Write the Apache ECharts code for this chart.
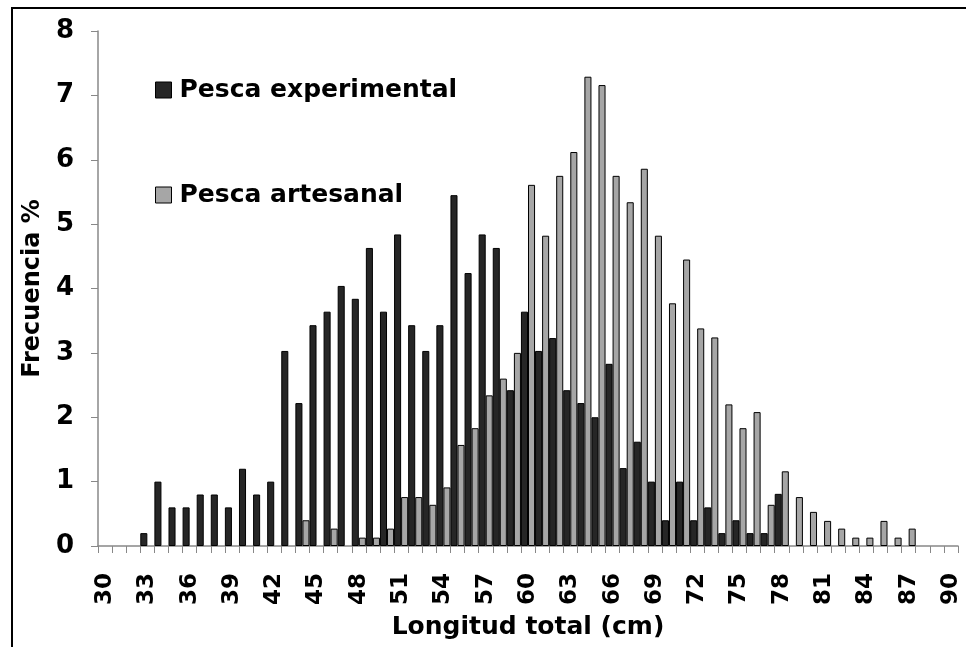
<!DOCTYPE html>
<html>
<head>
<meta charset="utf-8">
<script src="https://cdn.jsdelivr.net/npm/echarts@6/dist/echarts.min.js"></script>
<style>
  html, body { margin: 0; padding: 0; background: #fff; }
  #chart { width: 966px; height: 647px; }
</style>
</head>
<body>
<div id="chart"></div>
<script>
// Length classes (cm), one per centimetre
const lengths = [];
for (let cm = 30; cm <= 90; cm++) lengths.push(String(cm));

// Frequency (%) per length class, experimental fishing
const experimental = [
  0, 0, 0, 0.2, 1.0, 0.6, 0.6, 0.8, 0.8, 0.6,
  1.2, 0.8, 1.0, 3.03, 2.22, 3.43, 3.64, 4.04, 3.84, 4.63,
  3.64, 4.84, 3.43, 3.03, 3.43, 5.45, 4.24, 4.84, 4.63, 2.42,
  3.64, 3.03, 3.23, 2.42, 2.22, 2.0, 2.83, 1.21, 1.62, 1.0,
  0.4, 1.0, 0.4, 0.6, 0.2, 0.4, 0.2, 0.2, 0.81, 0,
  0, 0, 0, 0, 0, 0, 0, 0, 0, 0,
  0
];

// Frequency (%) per length class, artisanal fishing
const artesanal = [
  0, 0, 0, 0, 0, 0, 0, 0, 0, 0,
  0, 0, 0, 0, 0.4, 0, 0.27, 0, 0.13, 0.13,
  0.27, 0.76, 0.76, 0.64, 0.91, 1.57, 1.83, 2.34, 2.6, 3.0,
  5.61, 4.82, 5.75, 6.12, 7.29, 7.16, 5.75, 5.34, 5.86, 4.82,
  3.77, 4.45, 3.38, 3.24, 2.2, 1.83, 2.08, 0.64, 1.16, 0.76,
  0.53, 0.39, 0.27, 0.13, 0.13, 0.39, 0.13, 0.27, 0, 0,
  0
];

const seriesNames = ['Pesca experimental', 'Pesca artesanal'];
const yTicks = [0, 1, 2, 3, 4, 5, 6, 7, 8];

// empty classes are left blank rather than drawn as flat bars
const blankZeros = arr => arr.map(v => (v === 0 ? '-' : v));

const FONT = '"DejaVu Sans", Verdana, sans-serif';
const AXIS_GREY = '#888888';

const chart = echarts.init(document.getElementById('chart'), null, { renderer: 'canvas' });

chart.setOption({
  animation: false,
  backgroundColor: '#ffffff',
  grid: { left: 98, right: 8, top: 31, bottom: 101, containLabel: false },
  legend: {
    orient: 'vertical',
    left: 150,
    top: 70,
    itemGap: 75,
    itemWidth: 16,
    itemHeight: 16,
    icon: 'rect',
    itemStyle: { borderColor: '#000', borderWidth: 1 },
    textStyle: {
      fontFamily: FONT, fontWeight: 'bold', fontSize: 25, lineHeight: 30,
      color: '#000', padding: [0, 0, 0, 3]
    },
    data: seriesNames
  },
  xAxis: {
    type: 'category',
    data: lengths,
    boundaryGap: true,
    name: 'Longitud total (cm)',
    nameLocation: 'middle',
    nameGap: 69,
    nameTextStyle: { fontFamily: FONT, fontWeight: 'bold', fontSize: 25, color: '#000' },
    axisLine: { lineStyle: { color: AXIS_GREY, width: 1.5 } },
    axisTick: { show: true, interval: 0, length: 7, lineStyle: { color: AXIS_GREY, width: 1 } },
    axisLabel: {
      interval: 2,
      rotate: 90,
      margin: 27,
      fontFamily: FONT,
      fontWeight: 'bold',
      fontSize: 23,
      color: '#000'
    },
    splitLine: { show: false }
  },
  yAxis: {
    type: 'value',
    min: yTicks[0],
    max: yTicks[yTicks.length - 1],
    interval: 1,
    name: 'Frecuencia %',
    nameLocation: 'middle',
    nameGap: 53,
    nameTextStyle: { fontFamily: FONT, fontWeight: 'bold', fontSize: 24, color: '#000' },
    axisLine: { show: true, lineStyle: { color: AXIS_GREY, width: 1.5 } },
    axisTick: { show: true, length: 7, lineStyle: { color: AXIS_GREY, width: 1 } },
    axisLabel: { margin: 24, fontFamily: FONT, fontWeight: 'bold', fontSize: 26, color: '#000' },
    splitLine: { show: false }
  },
  series: [
    {
      name: seriesNames[0],
      type: 'bar',
      data: blankZeros(experimental),
      barGap: '0%',
      barCategoryGap: '0%',
      itemStyle: { color: '#262626', borderColor: '#000', borderWidth: 1 }
    },
    {
      name: seriesNames[1],
      type: 'bar',
      data: blankZeros(artesanal),
      barGap: '0%',
      barCategoryGap: '0%',
      itemStyle: { color: '#a6a6a6', borderColor: '#000', borderWidth: 1 }
    }
  ],
  graphic: [
    {
      type: 'rect',
      silent: true,
      shape: { x: 12, y: 8, width: 970, height: 660 },
      style: { fill: null, stroke: '#000', lineWidth: 2 }
    }
  ]
});
</script>
</body>
</html>
